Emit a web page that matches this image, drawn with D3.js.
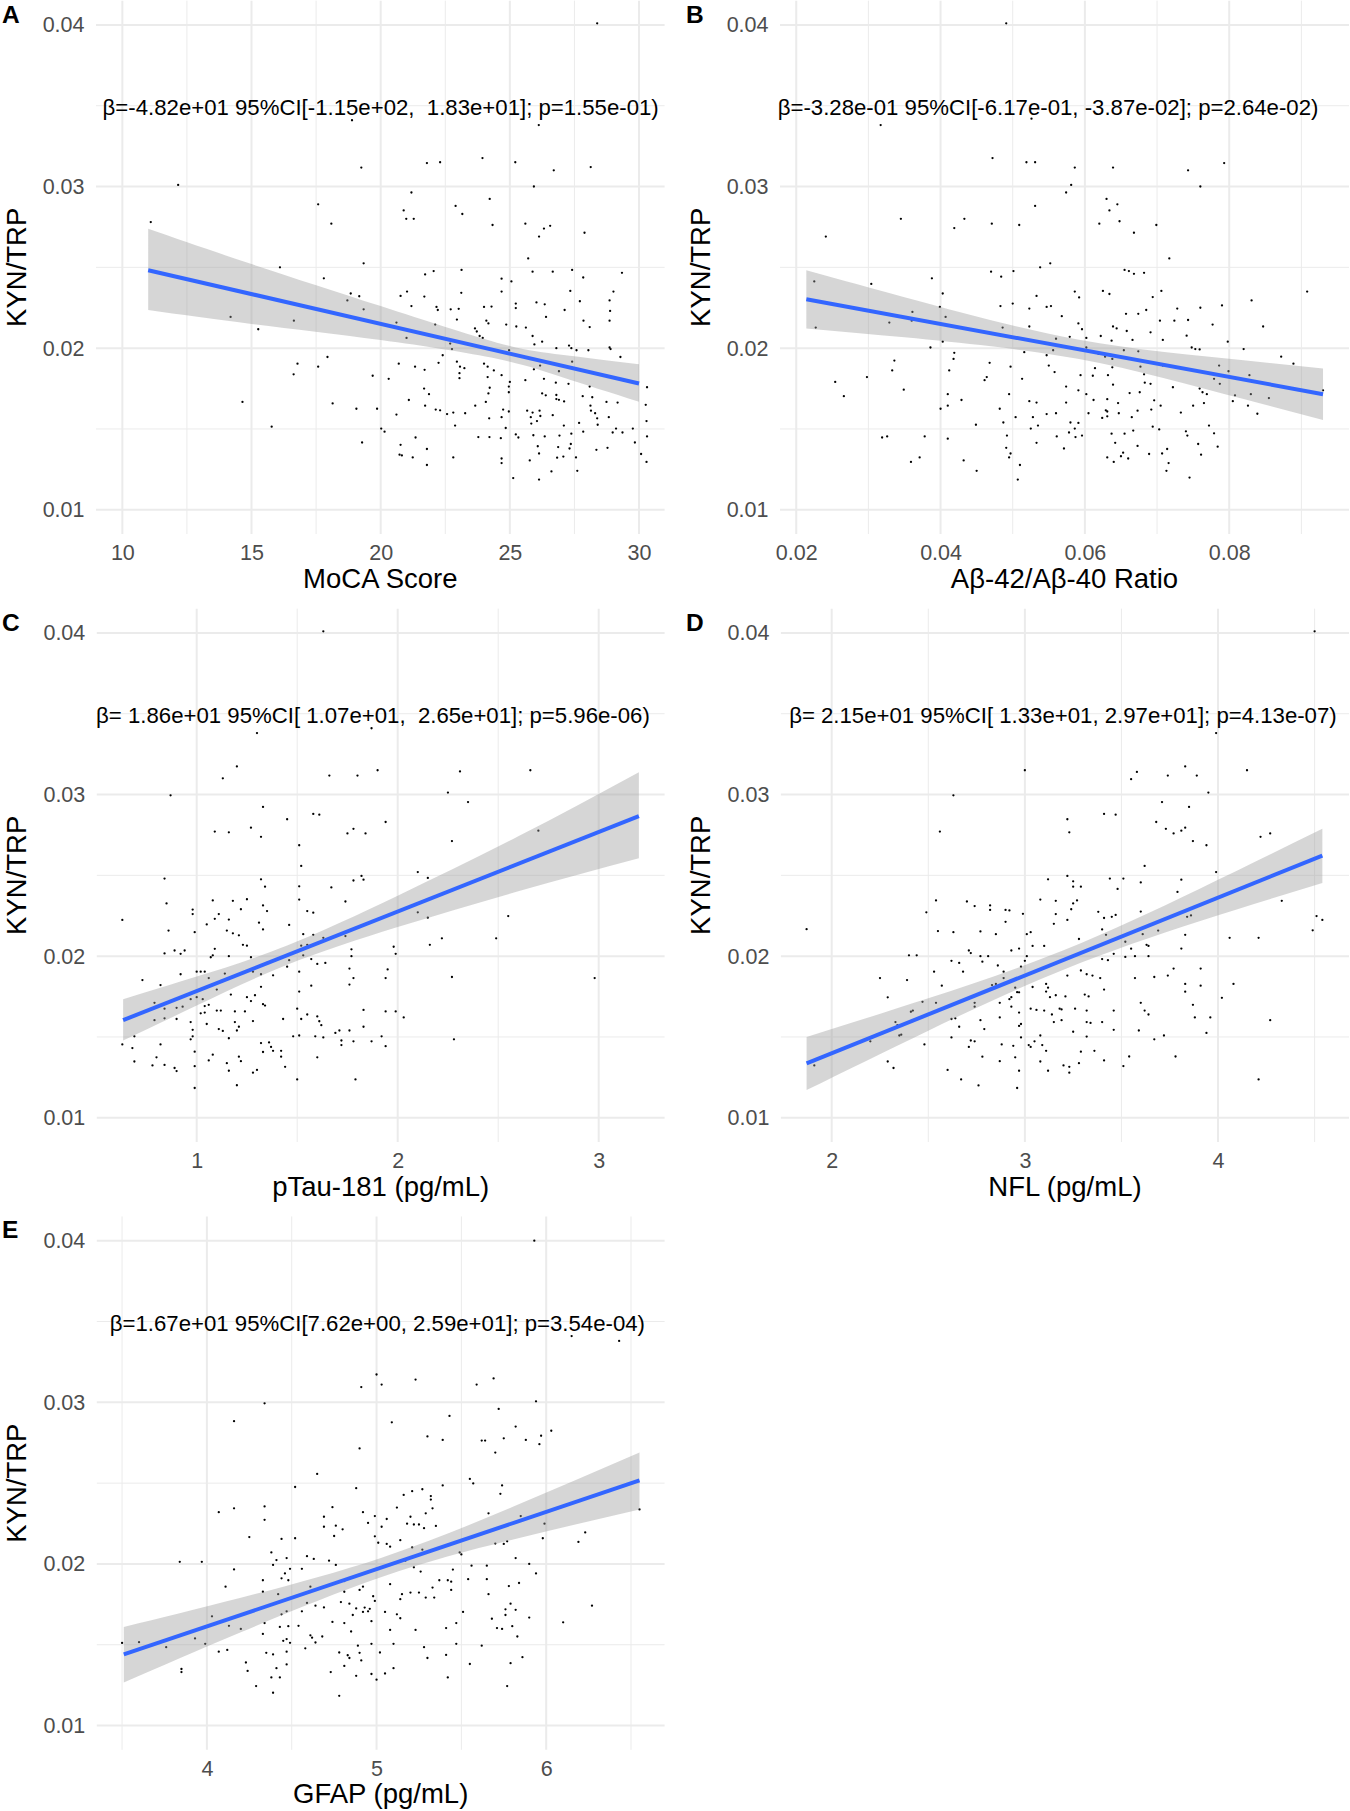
<!DOCTYPE html>
<html>
<head>
<meta charset="utf-8">
<title>KYN/TRP vs biomarkers</title>
<script src="https://d3js.org/d3.v7.min.js"></script>
<style>
  body { margin: 0; background: #fff; }
  svg { display: block; font-family: "Liberation Sans", Arial, sans-serif; }
  text { white-space: pre; }
</style>
</head>
<body>
<svg width="1350" height="1811"></svg>
<script>
// ---- data: [x, KYN/TRP] ----
const mocaPts = [[28.38,0.0401],[18.89,0.0341],[26.12,0.0338],[23.94,0.03176],[25.21,0.0315],[21.79,0.03145],[22.30,0.0315],[19.25,0.03117],[26.70,0.0310],[28.13,0.0312],[12.16,0.0301],[25.93,0.0300],[21.19,0.02963],[24.22,0.02923],[17.58,0.0289],[22.90,0.0288],[20.89,0.02852],[23.16,0.0283],[20.99,0.0280],[21.28,0.0280],[18.09,0.0277],[24.33,0.02762],[25.60,0.0277],[26.32,0.0274],[26.56,0.02757],[11.10,0.0278],[27.89,0.02714],[26.13,0.0269],[25.71,0.02555],[16.10,0.0250],[19.34,0.02525],[23.13,0.02484],[21.72,0.02456],[22.05,0.02477],[25.88,0.02473],[26.66,0.02473],[27.41,0.02484],[29.34,0.02466],[25.06,0.02413],[24.68,0.0243],[24.68,0.0235],[17.80,0.02432],[23.12,0.02342],[27.34,0.02354],[29.01,0.0235],[27.84,0.02437],[21.02,0.0235],[20.77,0.02323],[21.69,0.02319],[18.84,0.02338],[19.17,0.02321],[18.71,0.02295],[26.03,0.02283],[26.35,0.02271],[25.23,0.02276],[25.23,0.02248],[27.71,0.0229],[28.86,0.02295],[27.12,0.02236],[21.19,0.0226],[22.16,0.02255],[22.21,0.02236],[24.00,0.02255],[24.29,0.02257],[22.71,0.0224],[23.02,0.02243],[19.34,0.0224],[28.88,0.0223],[14.19,0.02193],[16.64,0.0217],[22.95,0.02177],[24.09,0.0217],[24.17,0.02153],[26.40,0.02193],[27.85,0.0217],[28.86,0.0217],[15.26,0.02117],[20.61,0.02158],[22.11,0.02146],[24.86,0.02146],[25.25,0.02134],[25.62,0.02127],[28.09,0.0213],[23.65,0.02122],[23.72,0.02103],[23.83,0.02075],[23.95,0.02063],[21.00,0.02063],[25.88,0.02075],[26.25,0.0204],[22.69,0.02028],[25.95,0.02023],[26.80,0.0200],[27.29,0.02016],[27.38,0.0200],[27.58,0.01987],[24.97,0.01987],[28.86,0.02004],[28.90,0.01994],[28.04,0.01987],[28.09,0.01762],[22.76,0.01994],[22.40,0.01956],[22.24,0.01909],[20.70,0.01904],[22.95,0.01916],[24.00,0.01904],[27.41,0.01916],[29.28,0.01945],[17.94,0.01945],[16.78,0.01904],[16.63,0.01838],[17.58,0.01885],[21.33,0.01885],[21.70,0.01866],[23.07,0.01885],[23.24,0.01876],[23.05,0.01845],[23.05,0.01814],[24.14,0.01885],[24.38,0.01862],[25.93,0.01869],[26.17,0.01892],[26.90,0.01857],[27.38,0.01881],[19.69,0.01829],[20.31,0.0181],[24.14,0.01821],[24.68,0.01833],[25.60,0.01802],[26.32,0.0181],[26.78,0.01786],[25.00,0.01791],[27.27,0.01779],[30.31,0.01758],[30.26,0.01649],[24.22,0.01755],[24.96,0.01762],[24.96,0.01727],[24.17,0.0172],[21.68,0.0175],[21.87,0.01715],[26.25,0.0172],[26.39,0.01708],[26.80,0.0171],[26.90,0.0168],[27.10,0.0167],[26.80,0.01685],[27.82,0.01703],[28.19,0.01696],[21.09,0.01679],[24.07,0.01667],[23.66,0.01644],[28.74,0.01667],[29.17,0.01663],[28.12,0.01644],[14.65,0.01667],[18.14,0.01658],[21.72,0.01644],[19.06,0.01625],[19.86,0.01625],[22.13,0.0162],[22.30,0.01615],[24.74,0.0162],[24.96,0.01608],[25.67,0.01613],[25.88,0.01601],[26.15,0.01613],[28.14,0.01613],[28.30,0.01597],[22.57,0.01592],[22.81,0.01601],[23.27,0.01597],[20.61,0.01589],[25.81,0.01573],[26.18,0.0158],[26.66,0.01585],[28.38,0.01566],[28.40,0.01526],[28.83,0.01573],[24.20,0.01566],[24.68,0.01573],[30.29,0.01549],[22.88,0.01521],[25.83,0.01533],[26.05,0.01549],[27.68,0.01537],[27.09,0.01521],[15.78,0.01514],[20.02,0.01502],[20.15,0.01483],[24.84,0.01506],[29.11,0.01502],[29.76,0.01502],[27.84,0.01483],[28.98,0.01478],[29.36,0.01478],[30.31,0.01454],[23.78,0.0145],[24.21,0.0145],[24.65,0.01443],[25.23,0.01466],[25.33,0.01447],[25.91,0.01461],[26.35,0.01454],[26.92,0.01459],[27.38,0.01471],[21.35,0.01447],[29.84,0.01416],[27.36,0.01407],[19.28,0.01416],[26.08,0.01393],[26.87,0.01388],[27.31,0.01379],[28.35,0.01371],[28.78,0.01383],[20.77,0.01402],[21.79,0.01376],[20.73,0.01341],[20.82,0.01336],[21.24,0.01324],[22.81,0.01324],[26.13,0.01348],[25.77,0.01305],[26.83,0.01322],[27.07,0.01329],[27.56,0.01324],[24.68,0.01317],[24.68,0.01289],[30.08,0.01345],[30.29,0.01296],[21.79,0.01277],[26.61,0.01237],[27.61,0.01241],[25.13,0.01196],[26.13,0.01187]];

const abetaPts = [[0.0491,0.0401],[0.0317,0.0338],[0.0526,0.0342],[0.0472,0.03176],[0.0519,0.0315],[0.0531,0.0315],[0.0586,0.03117],[0.0639,0.03117],[0.0743,0.0310],[0.0793,0.03145],[0.0581,0.0301],[0.0760,0.0300],[0.0574,0.02963],[0.0630,0.02923],[0.0645,0.0289],[0.0531,0.0288],[0.0634,0.02852],[0.0648,0.02785],[0.0345,0.0280],[0.0433,0.0280],[0.0471,0.0277],[0.0509,0.02762],[0.0620,0.0277],[0.0699,0.02762],[0.0419,0.02743],[0.0241,0.0269],[0.0668,0.02714],[0.0717,0.02555],[0.0552,0.02525],[0.0538,0.0250],[0.0655,0.02484],[0.0661,0.02477],[0.0668,0.0246],[0.0682,0.02466],[0.0470,0.02473],[0.0501,0.02477],[0.0388,0.02432],[0.0484,0.02442],[0.0225,0.02413],[0.0304,0.02397],[0.0908,0.0235],[0.0586,0.0235],[0.0625,0.02354],[0.0634,0.02335],[0.0592,0.02314],[0.0533,0.02323],[0.0706,0.02354],[0.0403,0.02338],[0.0694,0.02316],[0.0831,0.02295],[0.0500,0.02276],[0.0483,0.0226],[0.0547,0.02255],[0.0553,0.0226],[0.0790,0.02264],[0.0399,0.02255],[0.0523,0.02245],[0.0685,0.02236],[0.0728,0.02245],[0.0760,0.0225],[0.0361,0.02224],[0.0407,0.02193],[0.0568,0.02198],[0.0657,0.02212],[0.0674,0.02212],[0.0704,0.0217],[0.0724,0.0217],[0.0743,0.02174],[0.0329,0.02158],[0.0360,0.0217],[0.0591,0.02153],[0.0639,0.02134],[0.0644,0.02122],[0.0777,0.02146],[0.0847,0.02134],[0.0227,0.02127],[0.0486,0.02127],[0.0523,0.02134],[0.0596,0.02117],[0.0691,0.02098],[0.0658,0.02106],[0.0741,0.02077],[0.0622,0.02075],[0.0708,0.02051],[0.0560,0.02058],[0.0579,0.0207],[0.0602,0.02063],[0.0637,0.02046],[0.0666,0.02051],[0.0798,0.0204],[0.0403,0.0204],[0.0386,0.02004],[0.0748,0.02004],[0.0753,0.01994],[0.0759,0.01992],[0.0820,0.01994],[0.0602,0.02004],[0.0556,0.01987],[0.0516,0.01975],[0.0590,0.01994],[0.0654,0.01987],[0.0674,0.0198],[0.0619,0.01964],[0.0628,0.01947],[0.0638,0.01933],[0.0419,0.01971],[0.0336,0.01923],[0.0418,0.01933],[0.0468,0.01909],[0.0547,0.01956],[0.0872,0.01947],[0.0889,0.01904],[0.0786,0.01892],[0.0550,0.01892],[0.0708,0.01892],[0.0614,0.01876],[0.0638,0.01881],[0.0677,0.01885],[0.0333,0.01862],[0.0412,0.01862],[0.0497,0.01885],[0.0558,0.01852],[0.0799,0.01857],[0.0594,0.01833],[0.0611,0.01829],[0.0682,0.01838],[0.0632,0.01833],[0.0828,0.01833],[0.0779,0.0181],[0.0298,0.01821],[0.0464,0.01821],[0.0461,0.01802],[0.0513,0.0181],[0.0254,0.01791],[0.0639,0.01774],[0.0683,0.01786],[0.0691,0.01779],[0.0787,0.01779],[0.0574,0.01762],[0.0722,0.01758],[0.0759,0.0175],[0.0349,0.01743],[0.0591,0.01739],[0.0662,0.01722],[0.0676,0.01727],[0.0763,0.01727],[0.0769,0.01715],[0.0808,0.01708],[0.0830,0.01715],[0.0855,0.01691],[0.0266,0.01703],[0.0495,0.01715],[0.0410,0.01715],[0.0602,0.01715],[0.0612,0.01679],[0.0631,0.01684],[0.0523,0.01672],[0.0533,0.01663],[0.0574,0.01663],[0.0696,0.01677],[0.0805,0.01672],[0.0705,0.01644],[0.0646,0.0166],[0.0429,0.01679],[0.0410,0.01644],[0.0826,0.01644],[0.0750,0.01644],[0.0765,0.0166],[0.0400,0.01625],[0.0482,0.01625],[0.0631,0.01608],[0.0629,0.01615],[0.0647,0.01597],[0.0673,0.01613],[0.0692,0.0162],[0.0733,0.01601],[0.0839,0.01594],[0.0547,0.01592],[0.0560,0.01597],[0.0605,0.01597],[0.0624,0.01568],[0.0631,0.01578],[0.0665,0.01573],[0.0504,0.01573],[0.0528,0.01573],[0.0449,0.01526],[0.0487,0.0154],[0.0535,0.01521],[0.0580,0.0154],[0.0591,0.01537],[0.0525,0.01502],[0.0586,0.01502],[0.0694,0.01514],[0.0703,0.01497],[0.0772,0.01521],[0.0578,0.01478],[0.0596,0.01459],[0.0637,0.01471],[0.0655,0.01471],[0.0667,0.0149],[0.0740,0.01485],[0.0742,0.01459],[0.0779,0.01473],[0.0319,0.01447],[0.0326,0.01454],[0.0378,0.01454],[0.0410,0.0144],[0.0492,0.01459],[0.0561,0.01454],[0.0587,0.0145],[0.0642,0.01414],[0.0533,0.01414],[0.0571,0.01379],[0.0491,0.01383],[0.0757,0.01407],[0.0784,0.0139],[0.0673,0.01395],[0.0714,0.01376],[0.0653,0.01353],[0.0707,0.01348],[0.0495,0.01324],[0.0497,0.01348],[0.0631,0.01324],[0.0650,0.01331],[0.0660,0.01317],[0.0689,0.01345],[0.0761,0.01341],[0.0359,0.01296],[0.0371,0.01324],[0.0432,0.01305],[0.0510,0.01277],[0.0640,0.01296],[0.0716,0.01289],[0.0450,0.01241],[0.0713,0.01241],[0.0507,0.01187],[0.0745,0.01199],[0.0930,0.01739]];

const ptauPts = [[1.63,0.0401],[1.30,0.0338],[1.87,0.0341],[1.20,0.03174],[1.13,0.0310],[1.66,0.03117],[1.80,0.03117],[1.90,0.0315],[2.31,0.03143],[2.66,0.0315],[0.87,0.02995],[2.25,0.03012],[2.35,0.02953],[1.33,0.02923],[1.45,0.02847],[1.58,0.0288],[1.61,0.02875],[1.94,0.0283],[1.27,0.02795],[1.09,0.02771],[1.16,0.02766],[1.32,0.02738],[1.75,0.02759],[1.78,0.02788],[1.84,0.02759],[2.27,0.02712],[2.70,0.02776],[1.51,0.02686],[1.52,0.02558],[2.10,0.0252],[0.84,0.0248],[1.32,0.02475],[1.34,0.0243],[1.51,0.02432],[1.67,0.02425],[1.78,0.02468],[1.82,0.02496],[1.83,0.02473],[2.15,0.02484],[0.85,0.02326],[1.08,0.02345],[1.18,0.02342],[1.25,0.02352],[1.33,0.02314],[1.51,0.0235],[1.55,0.02279],[1.58,0.02269],[1.74,0.02338],[1.22,0.0229],[1.35,0.02279],[0.98,0.02288],[0.98,0.0226],[0.63,0.02224],[2.10,0.02271],[2.15,0.02238],[2.55,0.02248],[1.05,0.02196],[1.09,0.02231],[1.11,0.0226],[1.16,0.02226],[0.86,0.02158],[0.99,0.02148],[1.15,0.02158],[1.18,0.02141],[1.21,0.02129],[1.31,0.02207],[1.33,0.02165],[1.46,0.02193],[1.53,0.02136],[1.58,0.02132],[1.63,0.02113],[1.74,0.02124],[1.23,0.0207],[1.25,0.02065],[1.52,0.02065],[1.55,0.0207],[1.60,0.02077],[1.77,0.02042],[1.98,0.02058],[2.16,0.0207],[2.22,0.0211],[2.49,0.0211],[2.98,0.01864],[0.84,0.02017],[0.89,0.02035],[0.92,0.02014],[0.94,0.02035],[1.08,0.02005],[1.09,0.02045],[1.07,0.01993],[1.16,0.0200],[1.27,0.01993],[1.35,0.01958],[1.46,0.01975],[1.53,0.02005],[1.57,0.01982],[1.60,0.01952],[1.64,0.01958],[1.77,0.0200],[1.99,0.02014],[1.45,0.01935],[1.51,0.01904],[0.92,0.01888],[0.73,0.01852],[1.00,0.01904],[1.02,0.01904],[1.04,0.01904],[1.14,0.01892],[1.28,0.01904],[1.32,0.01888],[1.76,0.01923],[1.78,0.01864],[1.95,0.01918],[1.94,0.01864],[2.27,0.01871],[0.82,0.01821],[1.06,0.01864],[1.10,0.01793],[1.17,0.01762],[1.38,0.01881],[1.32,0.0181],[1.51,0.01781],[1.57,0.01817],[1.76,0.01824],[0.79,0.01711],[0.84,0.01675],[0.90,0.0168],[0.93,0.01687],[0.97,0.01734],[1.00,0.01746],[1.03,0.01734],[1.06,0.01699],[1.04,0.01691],[1.25,0.01746],[1.27,0.01722],[1.29,0.01758],[1.33,0.01703],[1.34,0.01694],[1.24,0.01658],[1.19,0.01658],[1.10,0.01663],[1.12,0.01663],[1.02,0.01646],[1.04,0.01651],[0.79,0.01604],[0.84,0.01615],[0.90,0.01611],[0.97,0.01592],[0.98,0.01544],[0.98,0.01504],[0.97,0.01485],[1.05,0.0158],[1.11,0.01549],[1.13,0.01537],[1.16,0.01492],[1.19,0.01592],[1.21,0.01563],[1.20,0.0154],[1.28,0.01598],[1.43,0.01611],[1.50,0.01675],[1.52,0.01611],[1.55,0.01639],[1.60,0.01627],[1.61,0.01597],[1.62,0.01573],[1.83,0.01667],[1.94,0.01658],[1.99,0.01658],[2.03,0.01621],[1.83,0.01563],[1.76,0.0154],[1.71,0.0154],[1.69,0.01525],[1.48,0.01504],[1.51,0.01509],[1.59,0.01504],[1.63,0.01497],[1.72,0.01478],[1.72,0.0145],[1.78,0.01473],[1.87,0.01473],[1.92,0.01504],[1.94,0.01443],[2.28,0.01485],[0.63,0.01454],[0.68,0.01431],[0.69,0.01504],[0.69,0.01348],[0.78,0.01324],[0.80,0.01374],[0.82,0.01454],[0.84,0.01327],[0.89,0.01308],[0.90,0.01289],[0.99,0.01409],[0.99,0.01184],[0.99,0.01319],[1.06,0.01355],[1.08,0.0139],[1.15,0.01338],[1.16,0.01291],[1.20,0.01201],[1.21,0.01378],[1.22,0.0135],[1.28,0.01279],[1.30,0.01296],[1.32,0.01462],[1.33,0.01407],[1.36,0.01466],[1.37,0.01438],[1.38,0.01414],[1.42,0.01414],[1.42,0.01378],[1.44,0.01315],[1.50,0.01237],[1.60,0.01374],[1.79,0.01237]];

const nflPts = [[4.50,0.0401],[3.99,0.0338],[3.00,0.0315],[3.58,0.0314],[3.55,0.03095],[3.74,0.03117],[3.83,0.03174],[3.89,0.03117],[4.15,0.0315],[2.63,0.02995],[3.95,0.03012],[3.71,0.02953],[3.85,0.02923],[3.41,0.0288],[3.47,0.02875],[3.22,0.02847],[3.68,0.0283],[3.73,0.02788],[3.77,0.02759],[3.81,0.02776],[3.83,0.02795],[3.23,0.02766],[2.56,0.02771],[3.87,0.02712],[4.22,0.02738],[4.27,0.02759],[3.94,0.02686],[3.62,0.02558],[3.99,0.0252],[3.12,0.02475],[3.22,0.02496],[3.44,0.0248],[3.51,0.0248],[3.25,0.02463],[3.29,0.0243],[3.48,0.02416],[3.60,0.02456],[3.81,0.02473],[3.25,0.0243],[3.79,0.02397],[2.54,0.02345],[2.70,0.02338],[2.74,0.0231],[2.82,0.02286],[2.82,0.02314],[2.90,0.02286],[2.92,0.02283],[3.08,0.0235],[3.16,0.02342],[3.25,0.02326],[3.27,0.02345],[3.24,0.0229],[4.33,0.02342],[2.49,0.02271],[2.99,0.02262],[3.16,0.0226],[3.38,0.02274],[3.41,0.02236],[3.45,0.02243],[3.47,0.02255],[3.60,0.02276],[3.84,0.02243],[3.86,0.02252],[4.51,0.02248],[4.54,0.02224],[2.90,0.02212],[3.15,0.0220],[3.22,0.02224],[2.77,0.02153],[2.55,0.02155],[2.63,0.02148],[2.85,0.02136],[3.01,0.02136],[3.03,0.02148],[3.40,0.02165],[3.42,0.02132],[3.61,0.02136],[3.69,0.02158],[3.83,0.02132],[4.49,0.0216],[1.87,0.02167],[3.28,0.02106],[3.63,0.0207],[3.64,0.02063],[4.06,0.02113],[4.21,0.02113],[3.04,0.02063],[3.10,0.02063],[3.52,0.02089],[3.55,0.02046],[3.81,0.02047],[2.71,0.02035],[2.72,0.02019],[2.77,0.0200],[2.81,0.0200],[2.93,0.02035],[2.97,0.02047],[3.01,0.0200],[2.40,0.02005],[2.44,0.02005],[3.40,0.01982],[3.43,0.01975],[3.46,0.02014],[3.52,0.01995],[3.57,0.0200],[3.64,0.0200],[3.91,0.01923],[3.67,0.01871],[3.74,0.0188],[3.77,0.01923],[2.62,0.01971],[2.68,0.01904],[2.66,0.01958],[2.53,0.01904],[2.78,0.01966],[2.86,0.01942],[2.98,0.01935],[3.00,0.01971],[2.89,0.01904],[2.25,0.01864],[2.39,0.01852],[2.57,0.01817],[2.83,0.01821],[2.85,0.01828],[2.89,0.01864],[2.95,0.01805],[2.96,0.01777],[3.04,0.01809],[3.11,0.01828],[3.12,0.01805],[3.22,0.0188],[3.29,0.01911],[3.32,0.01888],[3.35,0.0188],[3.39,0.01864],[3.41,0.01793],[3.57,0.01864],[3.83,0.01828],[3.91,0.01817],[4.08,0.01828],[3.83,0.0178],[2.29,0.01745],[2.41,0.01656],[2.42,0.01663],[2.54,0.01711],[2.47,0.01717],[2.74,0.01711],[2.74,0.01687],[2.87,0.01711],[2.92,0.01734],[2.93,0.01746],[2.93,0.01687],[2.97,0.01776],[2.97,0.01651],[3.03,0.01675],[3.06,0.01667],[3.10,0.01663],[3.11,0.01781],[3.13,0.01746],[3.16,0.01758],[3.18,0.01675],[3.21,0.01751],[3.26,0.01675],[3.31,0.01762],[3.33,0.01751],[3.32,0.01663],[3.46,0.01663],[3.60,0.01711],[3.62,0.01663],[3.64,0.01639],[3.87,0.01699],[4.02,0.01742],[3.88,0.01621],[3.96,0.01621],[4.27,0.01604],[2.33,0.01592],[2.34,0.01573],[2.20,0.01473],[2.35,0.01509],[2.36,0.01514],[2.48,0.01454],[2.62,0.01611],[2.64,0.01615],[2.66,0.01563],[2.62,0.01497],[2.72,0.01478],[2.74,0.01473],[2.71,0.01438],[2.77,0.01604],[2.79,0.01549],[2.87,0.01621],[2.88,0.01454],[2.94,0.01445],[2.97,0.01568],[2.98,0.0158],[2.98,0.01497],[3.02,0.0145],[3.03,0.01438],[3.05,0.01473],[3.08,0.01509],[3.09,0.0145],[3.11,0.01414],[3.14,0.01639],[3.15,0.01592],[3.19,0.0167],[3.19,0.01604],[3.32,0.01592],[3.34,0.01587],[3.25,0.01532],[3.32,0.01502],[3.29,0.01409],[3.36,0.01414],[3.40,0.01592],[3.46,0.01544],[3.59,0.0154],[3.67,0.01485],[3.72,0.01509],[3.94,0.01525],[3.54,0.01379],[3.78,0.01379],[3.51,0.0132],[3.41,0.01355],[3.28,0.01338],[3.23,0.01315],[3.20,0.01324],[3.23,0.01279],[3.12,0.01291],[3.08,0.01348],[2.97,0.01291],[2.95,0.01374],[2.87,0.0135],[2.78,0.01378],[2.60,0.01296],[2.67,0.01237],[2.76,0.0120],[2.96,0.01184],[4.21,0.01237],[2.29,0.01348],[2.32,0.01308],[1.91,0.01324]];

const gfapPts = [[5.93,0.0400],[6.15,0.0341],[6.43,0.0338],[5.00,0.03172],[5.03,0.0311],[4.91,0.03094],[5.23,0.03141],[5.59,0.0311],[5.69,0.03148],[4.34,0.02994],[5.94,0.03006],[5.72,0.02959],[5.43,0.02916],[4.16,0.02883],[5.09,0.02876],[5.82,0.0285],[6.03,0.02824],[5.30,0.02789],[5.39,0.02767],[5.62,0.02763],[5.64,0.02763],[5.75,0.02777],[5.88,0.02767],[5.97,0.02793],[5.96,0.02741],[4.90,0.02715],[5.70,0.02689],[4.65,0.02557],[5.55,0.02526],[5.57,0.02498],[4.52,0.02476],[4.88,0.02469],[5.39,0.02486],[5.74,0.02486],[5.21,0.0245],[5.27,0.02462],[5.32,0.0242],[5.16,0.02427],[5.73,0.02434],[5.32,0.02398],[4.16,0.02344],[4.34,0.02356],[4.74,0.02351],[5.12,0.02349],[5.33,0.02344],[4.07,0.0232],[4.92,0.0232],[5.29,0.02313],[5.66,0.02313],[5.85,0.02296],[4.34,0.02273],[4.69,0.02292],[4.99,0.02296],[5.06,0.02278],[5.20,0.02292],[4.69,0.0223],[4.76,0.02237],[4.80,0.02214],[4.95,0.02254],[5.03,0.0223],[5.18,0.02249],[5.22,0.02244],[5.25,0.02244],[5.28,0.02221],[5.35,0.02235],[5.99,0.02249],[6.23,0.02195],[6.55,0.02337],[4.25,0.02166],[4.44,0.02155],[4.52,0.02159],[4.75,0.02173],[4.99,0.02171],[5.14,0.02147],[5.98,0.02159],[6.19,0.02136],[5.01,0.02131],[5.06,0.02124],[5.08,0.02107],[5.70,0.02126],[5.75,0.02124],[5.77,0.0214],[5.21,0.02102],[5.27,0.02088],[5.49,0.02071],[5.50,0.02059],[4.38,0.02071],[4.41,0.02024],[4.47,0.02036],[4.59,0.02048],[4.63,0.02031],[4.72,0.0202],[3.84,0.02013],[3.97,0.02013],[5.82,0.02036],[5.90,0.0200],[5.56,0.01989],[5.65,0.01989],[4.76,0.01994],[5.17,0.0202],[5.22,0.01979],[5.26,0.01953],[4.39,0.01994],[4.49,0.0197],[4.56,0.0197],[4.16,0.01966],[4.46,0.01941],[5.45,0.01965],[5.94,0.01941],[5.54,0.01906],[5.65,0.01906],[4.33,0.01899],[4.44,0.01911],[4.48,0.01899],[4.81,0.01894],[5.37,0.01899],[5.42,0.01899],[5.44,0.0189],[5.08,0.01875],[4.11,0.01859],[4.33,0.01828],[4.61,0.01859],[4.92,0.01859],[5.78,0.01863],[5.84,0.01882],[4.42,0.01813],[4.81,0.01828],[4.90,0.01839],[5.20,0.01823],[5.25,0.01823],[5.29,0.01792],[5.33,0.01854],[5.34,0.01792],[5.44,0.01839],[5.66,0.01813],[5.15,0.01813],[5.14,0.01782],[4.79,0.01764],[4.98,0.0180],[4.99,0.01771],[4.59,0.01759],[4.64,0.01742],[4.69,0.01731],[6.27,0.01742],[5.79,0.01754],[5.76,0.01719],[5.76,0.01684],[5.82,0.01716],[4.84,0.01754],[4.88,0.01725],[4.93,0.0173],[4.95,0.01707],[4.96,0.01722],[4.92,0.01703],[4.86,0.01684],[4.56,0.01707],[4.47,0.01707],[4.44,0.01688],[5.51,0.01703],[5.05,0.01703],[5.12,0.01688],[5.14,0.01664],[5.68,0.01661],[5.90,0.01668],[4.03,0.01676],[4.34,0.01634],[5.47,0.01634],[6.10,0.01639],[4.74,0.01641],[4.81,0.01634],[4.97,0.01646],[5.71,0.01603],[5.74,0.01598],[5.80,0.01615],[5.41,0.01603],[5.23,0.01592],[5.08,0.01592],[4.43,0.0161],[4.48,0.01615],[4.54,0.01617],[4.13,0.01617],[4.20,0.01598],[4.33,0.01567],[4.61,0.01558],[4.62,0.01544],[4.68,0.01551],[4.85,0.01582],[4.47,0.01535],[4.45,0.01524],[4.49,0.01512],[4.64,0.01514],[5.83,0.01551],[3.93,0.01539],[3.99,0.01506],[3.50,0.01511],[3.60,0.01516],[3.76,0.01485],[4.97,0.01506],[5.10,0.01506],[5.47,0.01506],[5.62,0.01494],[5.28,0.01485],[5.41,0.01437],[4.07,0.01457],[4.12,0.01468],[4.35,0.0145],[4.39,0.0144],[4.47,0.01457],[4.58,0.01478],[4.78,0.01452],[4.83,0.01435],[4.84,0.01418],[4.89,0.01494],[4.90,0.0145],[4.91,0.01403],[5.02,0.01452],[5.30,0.01418],[5.86,0.01423],[4.23,0.0139],[4.24,0.01338],[4.41,0.01355],[4.47,0.01378],[4.81,0.01369],[4.88,0.01308],[4.97,0.01319],[5.00,0.01284],[5.05,0.01322],[5.10,0.01355],[4.73,0.01331],[3.85,0.0135],[3.85,0.01331],[4.38,0.01298],[4.43,0.01298],[5.55,0.01381],[5.79,0.01386],[5.42,0.01298],[4.29,0.01244],[4.39,0.01203],[4.78,0.01184],[5.77,0.01244]];

// fitted line with 95% band: [x, lower, fit, upper]
const mocaBand = [[11.0,0.02236,0.02482,0.02738],[15.0,0.0215,0.02334,0.0252],[20.0,0.0205,0.0215,0.0226],[24.5,0.01934,0.01984,0.02034],[27.0,0.01821,0.0189,0.01959],[30.0,0.01668,0.01781,0.0190]];
const abetaBand = [[0.0214,0.02122,0.02302,0.02482],[0.035,0.02067,0.02191,0.02315],[0.047,0.02011,0.02092,0.02173],[0.059,0.01934,0.01994,0.02054],[0.071,0.01814,0.01895,0.01976],[0.082,0.01685,0.01805,0.01925],[0.093,0.01556,0.01715,0.01874]];
const ptauBand = [[0.634,0.01478,0.01604,0.01734],[1.0,0.01694,0.01784,0.01874],[1.45,0.01946,0.02006,0.02066],[2.0,0.0218,0.02277,0.02374],[2.6,0.02401,0.02571,0.02741],[3.2,0.02605,0.02866,0.03138]];
const nflBand = [[1.87,0.01171,0.01336,0.0150],[2.5,0.01539,0.01639,0.01739],[3.2,0.01916,0.01976,0.02036],[3.9,0.02214,0.02314,0.02414],[4.54,0.02452,0.02622,0.02788]];
const gfapBand = [[3.51,0.01267,0.0144,0.0161],[4.2,0.01577,0.01684,0.01791],[5.03,0.01919,0.01979,0.02039],[5.8,0.0215,0.02251,0.02352],[6.55,0.02337,0.02517,0.02689]];

// tick values
const yTicks = [0.01, 0.02, 0.03, 0.04];
const yMinor = [0.015, 0.025, 0.035];
const mocaTicks = [10, 15, 20, 25, 30];
const abetaTicks = [0.02, 0.04, 0.06, 0.08];
const ptauTicks = [1, 2, 3];
const nflTicks = [2, 3, 4];
const gfapTicks = [4, 5, 6];

const statLabels = [
  "β=-4.82e+01 95%CI[-1.15e+02,  1.83e+01]; p=1.55e-01)",
  "β=-3.28e-01 95%CI[-6.17e-01, -3.87e-02]; p=2.64e-02)",
  "β= 1.86e+01 95%CI[ 1.07e+01,  2.65e+01]; p=5.96e-06)",
  "β= 2.15e+01 95%CI[ 1.33e+01, 2.97e+01]; p=4.13e-07)",
  "β=1.67e+01 95%CI[7.62e+00, 2.59e+01]; p=3.54e-04)"
];

// layout of the five panels
const panels = [
  {tag: "A", pts: mocaPts, band: mocaBand, ticks: mocaTicks, minor: [12.5, 17.5, 22.5, 27.5], fmt: "d",
   title: "MoCA Score", stat: statLabels[0], statX: 20.0, dom: [8.98, 30.99], left: 96, right: 664.6, off: 0, tagX: 2, yTitleX: 26.4},
  {tag: "B", pts: abetaPts, band: abetaBand, ticks: abetaTicks, minor: [0.03, 0.05, 0.07, 0.09], fmt: ".2f",
   title: "Aβ-42/Aβ-40 Ratio", stat: statLabels[1], statX: 0.0549, dom: [0.01775, 0.0966], left: 780, right: 1349, off: 0, tagX: 686, yTitleX: 710},
  {tag: "C", pts: ptauPts, band: ptauBand, ticks: ptauTicks, minor: [1.5, 2.5], fmt: "d",
   title: "pTau-181 (pg/mL)", stat: statLabels[2], statX: 1.877, dom: [0.503, 3.328], left: 96.8, right: 664.6, off: 608, tagX: 2, yTitleX: 26.4},
  {tag: "D", pts: nflPts, band: nflBand, ticks: nflTicks, minor: [2.5, 3.5, 4.5], fmt: "d",
   title: "NFL (pg/mL)", stat: statLabels[3], statX: 3.197, dom: [1.737, 4.678], left: 780.9, right: 1349, off: 608, tagX: 686, yTitleX: 710},
  {tag: "E", pts: gfapPts, band: gfapBand, ticks: gfapTicks, minor: [3.5, 4.5, 5.5, 6.5], fmt: "d",
   title: "GFAP (pg/mL)", stat: statLabels[4], statX: 5.005, dom: [3.351, 6.698], left: 96.8, right: 664.6, off: 1215.8, tagX: 2, yTitleX: 26.4}
];

const svg = d3.select("svg");
svg.append("rect").attr("width", 1350).attr("height", 1811).attr("fill", "#fff");

panels.forEach(drawPanel);

function drawPanel(p) {
  const g = svg.append("g");
  const x = d3.scaleLinear().domain(p.dom).range([p.left, p.right]);
  const y = d3.scaleLinear().domain([0.0085, 0.0415]).range([534 + p.off, 0.65 + p.off]);
  const top = y.range()[1], bottom = y.range()[0];

  // grid: minor then major
  g.selectAll(".vmin").data(p.minor).join("line")
    .attr("x1", d => x(d)).attr("x2", d => x(d)).attr("y1", top).attr("y2", bottom)
    .attr("stroke", "#ebebeb").attr("stroke-width", 1);
  g.selectAll(".hmin").data(yMinor).join("line")
    .attr("x1", p.left).attr("x2", p.right).attr("y1", d => y(d)).attr("y2", d => y(d))
    .attr("stroke", "#ebebeb").attr("stroke-width", 1);
  g.selectAll(".vmaj").data(p.ticks).join("line")
    .attr("x1", d => x(d)).attr("x2", d => x(d)).attr("y1", top).attr("y2", bottom)
    .attr("stroke", "#ebebeb").attr("stroke-width", 2);
  g.selectAll(".hmaj").data(yTicks).join("line")
    .attr("x1", p.left).attr("x2", p.right).attr("y1", d => y(d)).attr("y2", d => y(d))
    .attr("stroke", "#ebebeb").attr("stroke-width", 2);

  // points
  g.selectAll(".pt").data(p.pts).join("circle")
    .attr("cx", d => x(d[0])).attr("cy", d => y(d[1])).attr("r", 1.15).attr("fill", "#000");

  // confidence band
  const area = d3.area().x(d => x(d[0])).y0(d => y(d[1])).y1(d => y(d[3])).curve(d3.curveNatural);
  g.append("path").datum(p.band).attr("d", area).attr("fill", "#999999").attr("fill-opacity", 0.4);

  // fitted line
  const ends = [p.band[0], p.band[p.band.length - 1]];
  g.append("path").datum(ends)
    .attr("d", d3.line().x(d => x(d[0])).y(d => y(d[2])))
    .attr("stroke", "#3366ff").attr("stroke-width", 4).attr("fill", "none");

  // axes (labels only)
  const yAxis = g.append("g").attr("transform", `translate(${p.left},0)`)
    .call(d3.axisLeft(y).tickValues(yTicks).tickSize(0).tickPadding(11.5).tickFormat(d3.format(".2f")));
  const xAxis = g.append("g").attr("transform", `translate(0,${bottom})`)
    .call(d3.axisBottom(x).tickValues(p.ticks).tickSize(0).tickPadding(11).tickFormat(d3.format(p.fmt)));
  [yAxis, xAxis].forEach(a => {
    a.select(".domain").remove();
    a.selectAll("text").attr("fill", "#4d4d4d").style("font-size", "21.5px")
      .style("font-family", "'Liberation Sans', Arial, sans-serif");
  });

  // axis titles
  g.append("text").attr("x", (p.left + p.right) / 2).attr("y", bottom + 53.5)
    .attr("text-anchor", "middle").style("font-size", "27.5px").attr("fill", "#000").text(p.title);
  g.append("text")
    .attr("transform", `translate(${p.yTitleX},${(top + bottom) / 2}) rotate(-90)`)
    .attr("text-anchor", "middle").style("font-size", "27.5px").attr("fill", "#000").text("KYN/TRP");

  // regression annotation
  g.append("text").attr("x", x(p.statX)).attr("y", y(0.035) + 9.5)
    .attr("text-anchor", "middle").style("font-size", "22.2px").attr("fill", "#000").text(p.stat);

  // panel tag
  g.append("text").attr("x", p.tagX).attr("y", p.off + 22.5)
    .style("font-size", "24.5px").style("font-weight", "bold").attr("fill", "#000").text(p.tag);
}
</script>
</body>
</html>
